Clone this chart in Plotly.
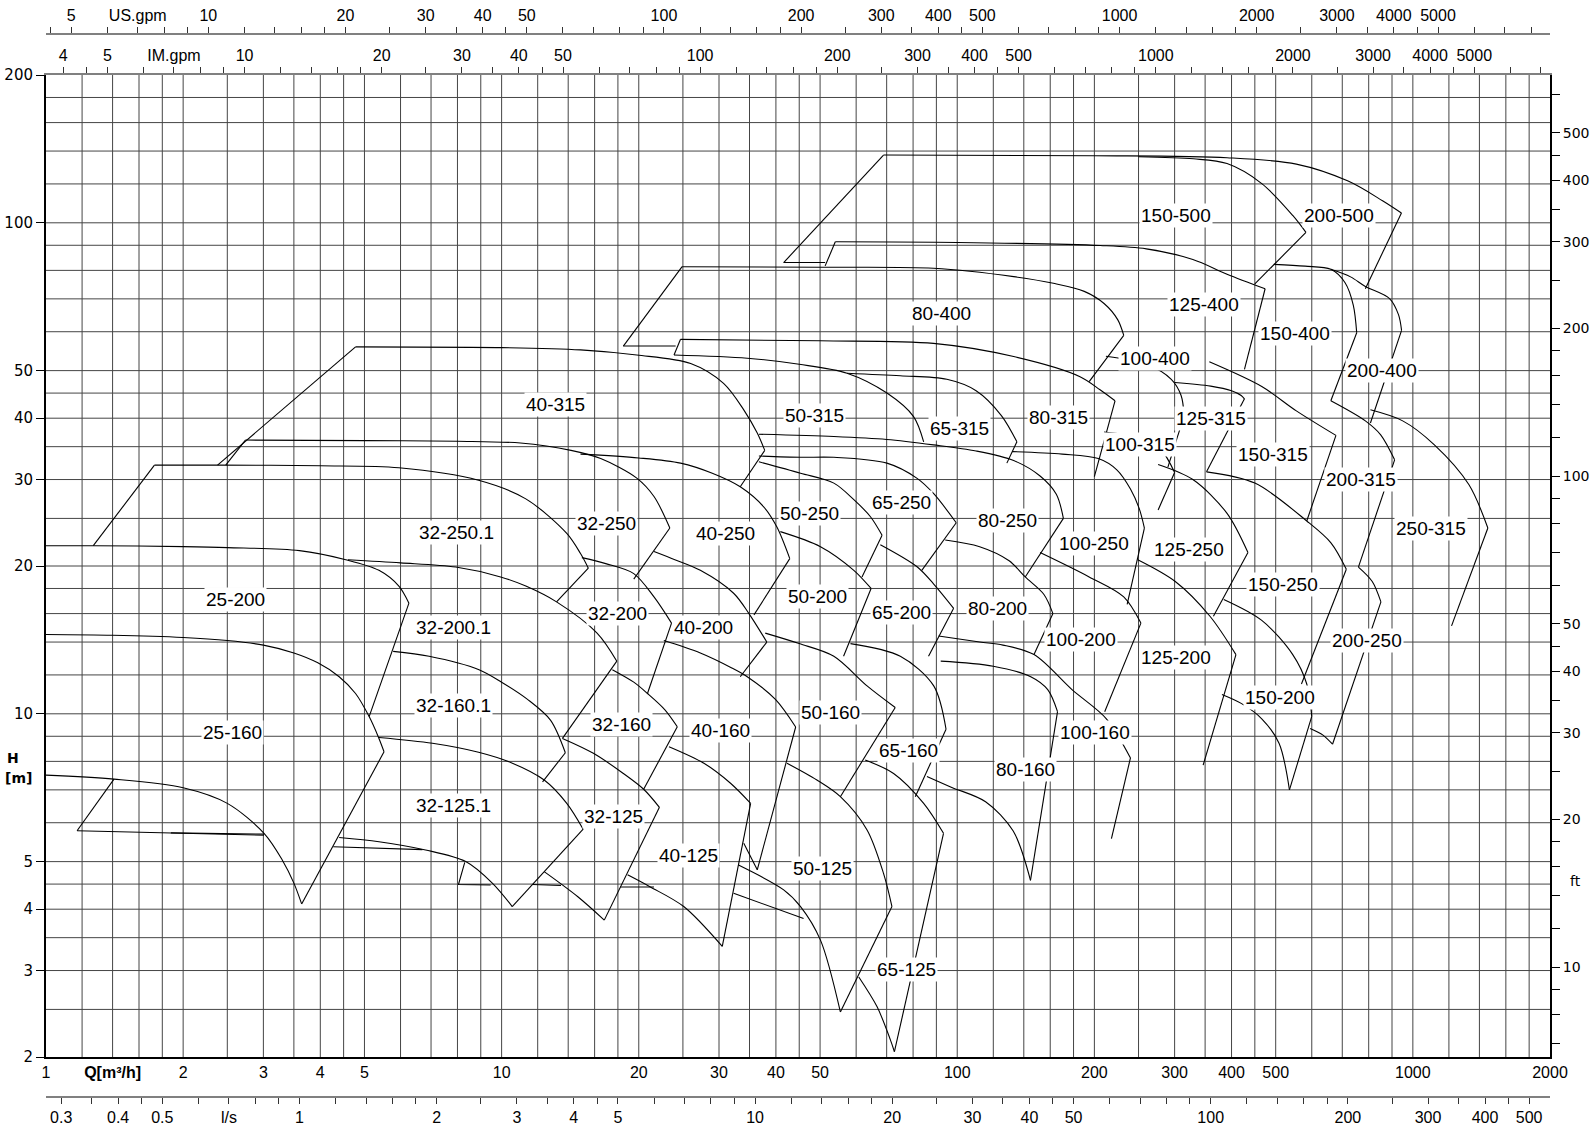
import math
import plotly.graph_objects as go

# ---------------- axis data ----------------
MANT = [1, 1.2, 1.4, 1.6, 1.8, 2, 2.5, 3, 3.5, 4, 4.5, 5, 6, 7, 8, 9]
Q_MIN, Q_MAX = 1, 2000
H_MIN, H_MAX = 2, 200
Q_LABELS = [1, 2, 3, 4, 5, 10, 20, 30, 40, 50, 100, 200, 300, 400, 500, 1000, 2000]
H_LABELS = [2, 3, 4, 5, 10, 20, 30, 40, 50, 100, 200]
LS_LABELS = [0.3, 0.4, 0.5, 1, 2, 3, 4, 5, 10, 20, 30, 40, 50, 100, 200, 300, 400, 500]
IM_LABELS = [4, 5, 10, 20, 30, 40, 50, 100, 200, 300, 400, 500, 1000, 2000, 3000, 4000, 5000]
US_LABELS = [5, 10, 20, 30, 40, 50, 100, 200, 300, 400, 500, 1000, 2000, 3000, 4000, 5000]
FT_LABELS = [10, 20, 30, 40, 50, 100, 200, 300, 400, 500]
LS_PER_M3H = 1 / 3.6
IMGPM_PER_M3H = 3.6662
USGPM_PER_M3H = 4.4029
FT_PER_M = 3.28084

# ---------------- pump curves (Q m3/h, H m) ----------------
# top curve (max impeller) points and right-edge end point
P_25_200 = [(1, 22.0), (1.27, 22.0), (2, 21.9), (2.5, 21.8), (3.6, 21.5), (4.55, 20.6), (5.38, 19.6), (5.95, 18.2), (6.26, 16.8)]
TIP_25_200 = (5.12, 9.87)
P_25_160 = [(1, 14.5), (1.4, 14.45), (2, 14.3), (2.5, 14.1), (3, 13.8), (3.5, 13.3), (3.95, 12.7), (4.4, 11.9), (4.78, 11.0), (5.12, 9.87), (5.38, 8.91), (5.52, 8.37)]
TIP_25_160 = (3.64, 4.10)
P_32_250_1 = [(1.73, 32.1), (2.38, 32.1), (4, 32.0), (5.95, 31.7), (8.9, 29.9), (11.3, 27.4), (13.9, 23.3), (14.9, 21.2), (15.5, 19.8)]
TIP_32_250_1 = (13.2, 16.9)
P_32_250 = [(2.74, 36.1), (5, 36.0), (8, 35.9), (11, 35.6), (14.2, 34.4), (16.5, 33.1), (19.8, 30.2), (21.6, 27.7), (23.4, 23.9)]
TIP_32_250 = (19.5, 18.8)
P_40_315 = [(4.78, 55.9), (10, 55.7), (14.9, 55.1), (19.8, 53.8), (26, 51.7), (30.7, 47.1), (34, 41.6), (36.4, 37.3), (37.8, 34.4)]
TIP_40_315 = (33.4, 29.0)
P_40_250 = [(14.9, 33.8), (20, 33.2), (24.7, 32.4), (29, 30.9), (33.4, 29.0), (37.6, 26.4), (40.2, 24.0), (42.9, 20.7)]
TIP_40_250 = (35.8, 15.9)
P_32_200_1 = [(4.6, 20.6), (6, 20.3), (7.93, 19.9), (9.95, 19.0), (11.3, 18.2), (13.2, 16.9), (16.2, 14.6), (17.9, 12.8)]
TIP_32_200_1 = (13.6, 8.91)
P_32_200 = [(15.0, 20.8), (17, 20.2), (19.5, 19.3), (21.6, 17.3), (23.6, 15.3)]
TIP_32_200 = (20.9, 11.0)
P_40_200 = [(21.6, 21.4), (24, 20.6), (27.3, 19.6), (32.3, 17.6), (34.9, 16.0), (38.2, 14.0)]
TIP_40_200 = (33.4, 11.9)
P_32_160_1 = [(5.78, 13.4), (6.93, 13.1), (8.92, 12.3), (10, 11.6), (11.4, 10.7), (12.8, 9.71), (13.8, 8.33)]
TIP_32_160_1 = (12.3, 7.27)
P_32_125_1 = [(5.38, 8.95), (7.05, 8.71), (8.9, 8.35), (10.5, 7.95), (12.4, 7.33), (13.9, 6.57), (15.1, 5.82)]
TIP_32_125_1 = (10.55, 4.05)
P_32_160 = [(17.5, 12.3), (19.5, 11.6), (20.9, 11.0), (22.8, 10.2), (24.3, 9.41)]
TIP_32_160 = (20.5, 7.02)
P_32_125 = [(13.6, 8.91), (15.9, 8.31), (18.5, 7.56), (20.5, 7.02), (22.2, 6.45)]
TIP_32_125 = (16.8, 3.80)
P_40_160 = [(22.7, 14.1), (27.3, 13.3), (32, 12.4), (34.6, 11.9), (39.9, 10.7), (44.2, 9.4)]
TIP_40_160 = (36.4, 4.81)
P_40_125 = [(23.3, 8.57), (27.8, 7.93), (31.8, 7.22), (35.2, 6.57)]
TIP_40_125 = (30.5, 3.36)
P_50_160 = [(37.9, 14.6), (45, 13.9), (53.6, 13.1), (63.4, 11.4), (73.1, 10.3)]
TIP_50_160 = (55.4, 6.78)
P_50_125 = [(42.3, 7.93), (49.2, 7.33), (55.4, 6.78), (63.4, 5.80), (68.9, 4.73), (71.9, 4.05)]
TIP_50_125 = (55.4, 2.47)
P_65_160 = [(58.3, 13.9), (75, 13.1), (88.8, 11.4), (94.5, 9.3)]
TIP_65_160 = (80.9, 6.78)
P_65_125 = [(62.8, 8.05), (72.5, 7.56), (84.4, 6.57), (93.3, 5.71)]
TIP_65_125 = (72.8, 2.05)
P_50_315 = [(23.9, 53.8), (34.6, 53.0), (45, 51.5), (57.3, 49.4), (70.1, 45.0), (80.2, 40.3), (84.4, 35.8)]
P_65_315 = [(57.3, 49.4), (75, 48.8), (94.9, 48.0), (110, 45.5), (125, 40.5), (135.2, 35.8)]
TIP_65_315 = (128.5, 32.4)
P_80_250 = [(36.7, 37.1), (53.6, 36.7), (70, 36.2), (88.7, 35.3), (110, 34.3), (133, 32.8), (152, 30.5), (165, 28.0), (171, 25.0)]
TIP_80_250 = (141, 19.0)
P_65_250 = [(36.7, 33.5), (45.3, 33.3), (53.6, 33.3), (70.1, 32.4), (81.5, 30.2), (88.7, 28.1), (99.5, 24.5)]
TIP_65_250 = (83.6, 19.6)
P_50_250 = [(36.7, 32.6), (45.3, 30.9), (53.6, 29.5), (59.3, 27.3), (64.5, 25.2), (68.4, 23.1)]
TIP_50_250 = (61.8, 19.0)
P_50_200 = [(40.9, 23.5), (50.1, 21.9), (59.3, 19.6), (64.7, 18.0)]
TIP_50_200 = (56.3, 13.1)
P_65_200 = [(67.8, 22.1), (81.5, 19.95), (88.7, 18.4), (98.2, 16.4)]
TIP_65_200 = (86.5, 13.1)
P_80_200 = [(94.1, 22.6), (112, 21.9), (130, 20.5), (141, 19.0), (155, 17.5), (162.2, 16.0)]
TIP_80_200 = (147.4, 13.2)
P_100_160 = [(91, 14.4), (112, 14.0), (126, 13.8), (147.4, 13.2), (178.6, 11.2), (212.5, 9.77), (240, 8.13)]
TIP_100_160 = (218, 5.57)
P_80_160 = [(92, 12.8), (120, 12.5), (145, 11.9), (158, 11.2), (166, 10.1)]
TIP_80_160 = (144.8, 4.58)
P_100_250 = [(132, 34.2), (170, 33.8), (204, 33.1), (224, 31.4), (240, 28.7), (250.8, 26.2), (257.5, 23.9)]
TIP_100_250 = (236, 16.7)
P_100_200 = [(152, 21.3), (194.8, 19.0), (232, 17.3), (253, 15.3)]
TIP_100_200 = (210.7, 10.1)
P_80_315 = [(24.7, 57.9), (50, 57.5), (88.7, 56.8), (133, 53.4), (186, 48.6), (205.8, 45.7), (222, 43.4)]
TIP_80_315 = (200, 30.4)
P_80_400 = [(24.9, 81.4), (50, 81.2), (88.7, 80.8), (133, 77.7), (162.6, 75.3), (190, 72.5), (210, 68.5), (225, 63.5), (232, 59.0)]
TIP_80_400 = (194.8, 47.5)
P_100_400 = [(212, 53.5), (260, 51.5), (295, 48.0), (310, 44.5), (314.8, 40.5)]
TIP_100_400 = (290, 31.8)
P_125_400 = [(54, 91.5), (100, 91.2), (206, 89.9), (260, 88.5), (329, 84.2), (391, 78.6), (474, 73.4)]
TIP_125_400 = (427, 50.3)
P_200_500 = [(68.9, 137.4), (200, 137.0), (391, 135.7), (555, 131.7), (721, 121.6), (858, 110.9), (944, 104.7)]
TIP_200_500 = (786.6, 73.4)
P_150_500 = [(250, 136.3), (330, 135.0), (391, 132.0), (466, 120.2), (545, 103.5), (582.6, 95.6)]
TIP_150_500 = (450, 75.1)
P_150_400 = [(495.3, 82.3), (580, 81.6), (660.7, 80.4), (710, 75.5), (740, 68.0), (753, 59.7)]
TIP_150_400 = (660.7, 43.4)
P_200_400 = [(660.7, 80.4), (730, 77.6), (786.6, 74.2), (889, 70.1), (930, 65.0), (944.6, 60.4)]
TIP_200_400 = (807, 39.1)
P_125_315 = [(300, 47.3), (360, 46.5), (400, 45.5), (420, 44.5), (427, 43.8)]
TIP_125_315 = (352.5, 31.1)
P_150_315 = [(357.5, 52.1), (466, 46.4), (555, 41.4), (678, 36.9)]
TIP_150_315 = (585, 24.7)
P_100_315 = [(210, 37.5), (250, 36.5), (280, 34.5), (300, 31.0)]
TIP_100_315 = (276, 26.0)
P_125_250 = [(276, 32.2), (329, 30.0), (391, 25.6), (434.6, 21.3)]
TIP_125_250 = (365, 15.8)
P_150_250 = [(352.5, 31.1), (450, 29.5), (585, 24.7), (661, 22.3), (714.5, 19.7)]
TIP_150_250 = (569.5, 11.5)
P_200_315 = [(660.7, 43.4), (786.6, 39.5), (850, 37.0), (912, 32.9)]
TIP_200_315 = (759.5, 19.9)
P_250_315 = [(807, 41.6), (950, 39.5), (1115, 35.3), (1327, 29.3), (1461, 23.9)]
TIP_250_315 = (1216, 15.1)
P_200_250 = [(759.5, 19.9), (814.5, 18.6), (851, 16.9)]
TIP_200_250 = (666.4, 8.67)
P_125_200 = [(249, 20.6), (301, 18.6), (358.7, 15.8), (409, 13.2)]
TIP_125_200 = (346.5, 7.86)
P_150_200 = [(384.6, 17.1), (466, 15.5), (545, 13.2), (585, 11.5), (600, 9.88)]
TIP_150_200 = (536, 7.0)

# bottom (min impeller) curves that are not shared with another tile
B_25_160 = [(1, 7.5), (1.41, 7.36), (2, 7.07), (2.5, 6.57), (3.01, 5.71), (3.3, 5.04), (3.5, 4.52), (3.64, 4.10)]
B_32_125_1 = [(4.40, 5.60), (5.38, 5.49), (6.81, 5.28), (8.34, 5.0), (9.54, 4.52), (10.55, 4.05)]
B_32_125 = [(12.4, 4.77), (14.7, 4.24), (16.8, 3.80)]
B_40_125 = [(18.9, 4.70), (21.2, 4.44), (25.1, 4.05), (30.5, 3.36)]
B_50_125 = [(33.1, 4.92), (41.6, 4.38), (45.3, 4.05), (50.1, 3.46), (55.4, 2.47)]
B_65_125 = [(60.8, 2.91), (66.7, 2.53), (71.3, 2.17), (72.8, 2.05)]
B_80_160 = [(85.8, 7.45), (97, 7.09), (115.4, 6.62), (132.7, 5.77), (144.8, 4.58)]
B_150_200 = [(381, 10.95), (420, 10.5), (466, 9.77), (508.5, 8.71), (536, 7.0)]
B_200_250 = [(595, 9.33), (635, 9.05), (666.4, 8.67)]

# straight side lines
L_25_200_LEFT = [(1.27, 22.0), (1.73, 32.1)]
L_32_250_LEFT = [(2.48, 32.1), (2.74, 36.1)]
L_40_315_LEFT = [(2.38, 32.1), (4.78, 55.9)]
L_25_125_LEFT = [(1.17, 5.78), (1.41, 7.36)]
L_25_125_BASE = [(1.17, 5.78), (3.01, 5.66)]
L_25_125_BASE2 = [(1.88, 5.72), (3.01, 5.69)]
L_32_125_1_A = [(4.27, 5.36), (6.7, 5.29)]
L_32_125_1_B = [(8.3, 4.98), (8.04, 4.49), (9.46, 4.48)]
L_32_125_C = [(11.7, 4.49), (13.5, 4.47)]
L_40_125_A = [(18.2, 4.44), (21.6, 4.44)]
L_40_160_A = [(34.0, 5.45), (36.4, 4.81)]
L_50_125_A = [(32.3, 4.31), (46.0, 3.83)]
L_80_400_LEFT = [(18.5, 56.1), (24.9, 81.4)]
L_80_400_BASE = [(18.5, 56.1), (24.1, 56.1)]
L_80_315_LEFT = [(23.9, 53.8), (24.7, 57.9)]
L_200_500_LEFT = [(41.6, 83.0), (68.9, 137.4)]
L_200_500_BASE = [(41.6, 83.0), (51.3, 83.0)]
L_125_400_LEFT = [(51.3, 81.7), (54.0, 91.5)]

# labels (text, Q, H)
LABELS = [
    ("25-200", 2.60, 17.1), ("25-160", 2.57, 9.14), ("32-250.1", 7.97, 23.4), ("32-200.1", 7.85, 15.0),
    ("32-160.1", 7.85, 10.4), ("32-125.1", 7.85, 6.51), ("32-250", 17.0, 24.4), ("32-200", 18.0, 16.0),
    ("32-160", 18.3, 9.5), ("32-125", 17.6, 6.18), ("40-315", 13.1, 42.7), ("40-250", 31.0, 23.3),
    ("40-200", 27.7, 15.0), ("40-160", 30.3, 9.23), ("40-125", 25.7, 5.15), ("50-315", 48.7, 40.5),
    ("50-250", 47.5, 25.6), ("50-200", 49.4, 17.3), ("50-160", 52.6, 10.06), ("50-125", 50.5, 4.84),
    ("65-315", 101, 38.1), ("65-250", 75.3, 26.9), ("65-200", 75.3, 16.1), ("65-160", 78.1, 8.43),
    ("65-125", 77.3, 3.02), ("80-400", 92.5, 65.3), ("80-315", 167, 40.2), ("80-250", 129, 24.8),
    ("80-200", 122.8, 16.4), ("80-160", 141, 7.7), ("100-400", 272, 53.0), ("100-315", 252, 35.3),
    ("100-250", 200, 22.2), ("100-200", 187, 14.2), ("100-160", 201, 9.14), ("125-400", 348.5, 68.2),
    ("125-315", 361, 40.0), ("125-250", 322.7, 21.6), ("125-200", 302, 13.0), ("150-500", 302, 103.3),
    ("150-400", 551, 59.4), ("150-315", 492, 33.7), ("150-250", 518, 18.3), ("150-200", 510, 10.8),
    ("200-500", 687, 103.3), ("200-400", 857, 50.0), ("200-315", 769.5, 30.0), ("200-250", 793.5, 14.1),
    ("250-315", 1097, 23.9),
]

# ---------------- assemble ----------------
PUMPS = [
    (P_25_200, TIP_25_200), (P_25_160, TIP_25_160), (P_32_250_1, TIP_32_250_1), (P_32_250, TIP_32_250),
    (P_40_315, TIP_40_315), (P_40_250, TIP_40_250), (P_32_200_1, TIP_32_200_1), (P_32_200, TIP_32_200),
    (P_40_200, TIP_40_200), (P_32_160_1, TIP_32_160_1), (P_32_125_1, TIP_32_125_1), (P_32_160, TIP_32_160),
    (P_32_125, TIP_32_125), (P_40_160, TIP_40_160), (P_40_125, TIP_40_125), (P_50_160, TIP_50_160),
    (P_50_125, TIP_50_125), (P_65_160, TIP_65_160), (P_65_125, TIP_65_125), (P_50_315, None),
    (P_65_315, TIP_65_315), (P_80_250, TIP_80_250), (P_65_250, TIP_65_250), (P_50_250, TIP_50_250),
    (P_50_200, TIP_50_200), (P_65_200, TIP_65_200), (P_80_200, TIP_80_200), (P_100_160, TIP_100_160),
    (P_80_160, TIP_80_160), (P_100_250, TIP_100_250), (P_100_200, TIP_100_200), (P_80_315, TIP_80_315),
    (P_80_400, TIP_80_400), (P_100_400, TIP_100_400), (P_125_400, TIP_125_400), (P_200_500, TIP_200_500),
    (P_150_500, TIP_150_500), (P_150_400, TIP_150_400), (P_200_400, TIP_200_400), (P_125_315, TIP_125_315),
    (P_150_315, TIP_150_315), (P_100_315, TIP_100_315), (P_125_250, TIP_125_250), (P_150_250, TIP_150_250),
    (P_200_315, TIP_200_315), (P_250_315, TIP_250_315), (P_200_250, TIP_200_250), (P_125_200, TIP_125_200),
    (P_150_200, TIP_150_200),
]
BOTTOMS = [B_25_160, B_32_125_1, B_32_125, B_40_125, B_50_125, B_65_125, B_80_160, B_150_200, B_200_250]
LINES = [L_25_200_LEFT, L_32_250_LEFT, L_40_315_LEFT, L_25_125_LEFT, L_25_125_BASE, L_25_125_BASE2,
         L_32_125_1_A, L_32_125_1_B, L_32_125_C, L_40_125_A, L_40_160_A, L_50_125_A, L_80_400_LEFT,
         L_80_400_BASE, L_80_315_LEFT, L_200_500_LEFT, L_200_500_BASE, L_125_400_LEFT]


def series(lo, hi):
    out = []
    for e in range(-1, 5):
        for m in MANT:
            v = float(f"{m * 10 ** e:.6g}")
            if lo - 1e-9 <= v <= hi + 1e-9:
                out.append(v)
    return out


def ticktext(vals, labels, special=None):
    txt = []
    for v in vals:
        if special and abs(v - special[0]) < 1e-9:
            txt.append(special[1])
        elif any(abs(v - l) < 1e-9 for l in labels):
            txt.append(f"{v:g}")
        else:
            txt.append("")
    return txt


Q_GRID = series(Q_MIN, Q_MAX)
H_GRID = series(H_MIN, H_MAX)
LS_TICKS = series(Q_MIN * LS_PER_M3H, Q_MAX * LS_PER_M3H)
IM_TICKS = series(Q_MIN * IMGPM_PER_M3H, Q_MAX * IMGPM_PER_M3H)
US_TICKS = series(Q_MIN * USGPM_PER_M3H, Q_MAX * USGPM_PER_M3H)
FT_TICKS = series(H_MIN * FT_PER_M, H_MAX * FT_PER_M)

fig = go.Figure()

# grid
gx, gy = [], []
for q in Q_GRID[1:-1]:
    gx += [q, q, None]
    gy += [H_MIN, H_MAX, None]
for h in H_GRID[1:-1]:
    gx += [Q_MIN, Q_MAX, None]
    gy += [h, h, None]
fig.add_trace(go.Scatter(x=gx, y=gy, mode="lines", line=dict(color="#454545", width=1),
                         hoverinfo="skip", showlegend=False))

# curves
cx, cy = [], []
for top, tip in PUMPS:
    cx += [p[0] for p in top] + [None]
    cy += [p[1] for p in top] + [None]
for b in BOTTOMS:
    cx += [p[0] for p in b] + [None]
    cy += [p[1] for p in b] + [None]
fig.add_trace(go.Scatter(x=cx, y=cy, mode="lines",
                         line=dict(color="black", width=1.1, shape="spline", smoothing=0.9),
                         connectgaps=False, hoverinfo="skip", showlegend=False))

ex, ey = [], []
for top, tip in PUMPS:
    if tip is not None:
        ex += [top[-1][0], tip[0], None]
        ey += [top[-1][1], tip[1], None]
for l in LINES:
    ex += [p[0] for p in l] + [None]
    ey += [p[1] for p in l] + [None]
fig.add_trace(go.Scatter(x=ex, y=ey, mode="lines", line=dict(color="black", width=1.1),
                         connectgaps=False, hoverinfo="skip", showlegend=False))

# invisible anchors for the secondary unit axes
for xa, ya, xv, yv in [("x2", "y", 1, 10), ("x3", "y", 10, 10), ("x4", "y", 10, 10), ("x", "y2", 10, 30)]:
    fig.add_trace(go.Scatter(x=[xv], y=[yv], xaxis=xa, yaxis=ya, mode="markers", marker=dict(opacity=0),
                             hoverinfo="skip", showlegend=False))

for text, q, h in LABELS:
    fig.add_annotation(x=math.log10(q), y=math.log10(h), xref="x", yref="y", text=text, showarrow=False,
                       font=dict(family="Liberation Sans, Arial", size=19, color="black"),
                       bgcolor="white", borderpad=1)

TOP_PX, BOT_PX, PAD = 75, 1057, 10
PH = 1131 - 2 * PAD


def frac(py):
    return 1 - (py - PAD) / PH


axfont = dict(family="Liberation Sans, Arial", size=16, color="black")
lfont = dict(family="DejaVu Sans, Verdana", size=15, color="black")
rfont = dict(family="DejaVu Sans, Verdana", size=14, color="black")
common = dict(type="log", showgrid=False, zeroline=False, automargin=False, tickmode="array")

fig.update_layout(
    width=1596, height=1131, autosize=False,
    margin=dict(l=46, r=46, t=PAD, b=PAD, autoexpand=False),
    paper_bgcolor="white", plot_bgcolor="white",
    showlegend=False,
    xaxis=dict(**common, range=[math.log10(Q_MIN), math.log10(Q_MAX)], domain=[0, 1],
               tickvals=Q_GRID, ticktext=ticktext(Q_GRID, Q_LABELS, (1.4, "<b>Q[m³/h]</b>")),
               showline=True, linecolor="black", linewidth=2, ticks="", tickfont=axfont, anchor="y"),
    yaxis=dict(**common, range=[math.log10(H_MIN), math.log10(H_MAX)], domain=[frac(BOT_PX), frac(TOP_PX)],
               tickvals=H_LABELS, ticktext=[f"{v:g}" for v in H_LABELS],
               showline=True, mirror=True, linecolor="black", linewidth=2,
               ticks="outside", ticklen=8, tickcolor="black", tickfont=lfont, anchor="x"),
    xaxis2=dict(**common, overlaying="x", anchor="free", position=frac(1097), side="bottom",
                range=[math.log10(Q_MIN * LS_PER_M3H), math.log10(Q_MAX * LS_PER_M3H)],
                tickvals=LS_TICKS, ticktext=ticktext(LS_TICKS, LS_LABELS, (0.7, "l/s")),
                showline=True, linecolor="#808080", linewidth=2,
                ticks="outside", ticklen=6, tickcolor="#333", tickfont=axfont),
    xaxis3=dict(**common, overlaying="x", anchor="y", side="top",
                range=[math.log10(Q_MIN * IMGPM_PER_M3H), math.log10(Q_MAX * IMGPM_PER_M3H)],
                tickvals=IM_TICKS, ticktext=ticktext(IM_TICKS, IM_LABELS, (7, "IM.gpm")),
                showline=True, linecolor="#808080", linewidth=2,
                ticks="outside", ticklen=6, tickcolor="#333", tickfont=axfont),
    xaxis4=dict(**common, overlaying="x", anchor="free", position=frac(34), side="top",
                range=[math.log10(Q_MIN * USGPM_PER_M3H), math.log10(Q_MAX * USGPM_PER_M3H)],
                tickvals=US_TICKS, ticktext=ticktext(US_TICKS, US_LABELS, (7, "US.gpm")),
                showline=True, linecolor="#808080", linewidth=2,
                ticks="outside", ticklen=6, tickcolor="#333", tickfont=axfont),
    yaxis2=dict(**common, overlaying="y", side="right", anchor="x",
                range=[math.log10(H_MIN * FT_PER_M), math.log10(H_MAX * FT_PER_M)],
                tickvals=FT_TICKS, ticktext=ticktext(FT_TICKS, FT_LABELS),
                showline=False, ticks="outside", ticklen=9, tickcolor="black", tickfont=rfont),
)

fig.add_annotation(x=(13.2 - 46) / 1504, y=frac(758), xref="paper", yref="paper", text="<b>H</b>",
                   showarrow=False, xanchor="center", yanchor="middle",
                   font=dict(family="DejaVu Sans, Verdana", size=14, color="black"))
fig.add_annotation(x=(18.3 - 46) / 1504, y=frac(778), xref="paper", yref="paper", text="<b>[m]</b>",
                   showarrow=False, xanchor="center", yanchor="middle",
                   font=dict(family="DejaVu Sans, Verdana", size=14, color="black"))
fig.add_annotation(x=(1575 - 46) / 1504, y=math.log10(15 / FT_PER_M), xref="paper", yref="y", text="ft",
                   showarrow=False, xanchor="center", yanchor="middle", font=rfont)

# the page's default 8px body margin would shift the 1596x1131 figure; remove it
fig.write_html("out.html", config={"displayModeBar": False},
               post_script="document.body.style.margin='0px';document.body.style.overflow='hidden';")
